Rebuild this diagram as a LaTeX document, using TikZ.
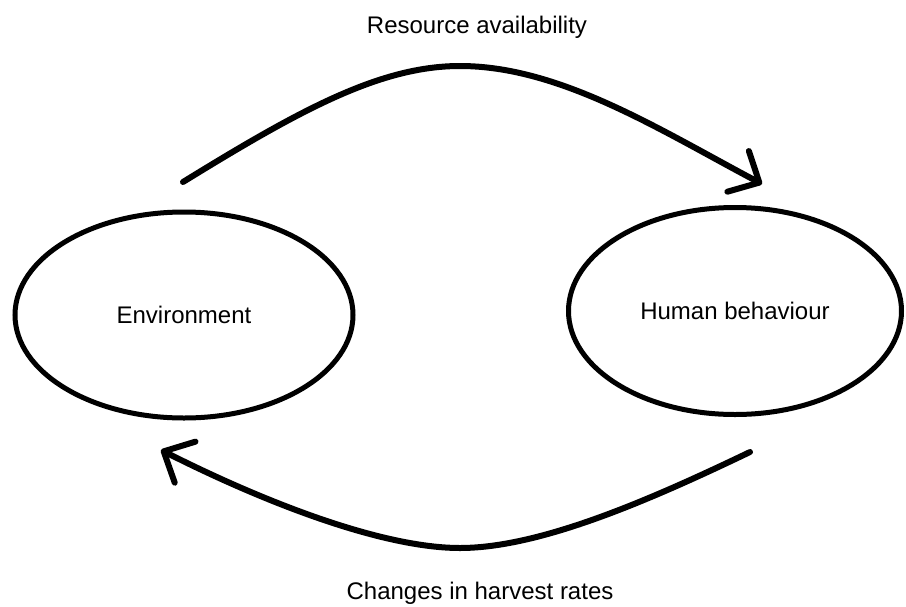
\documentclass[tikz,border=0pt]{standalone}
\usepackage{fontspec}
\setmainfont{Liberation Sans}
\usetikzlibrary{shapes.geometric,arrows.meta}
\begin{document}
\begin{tikzpicture}[x=1pt,y=-1pt,
  font=\fontsize{24}{29}\selectfont,
  sphere/.style={ellipse, draw, line width=5pt, inner sep=0pt},
  flow/.style={line width=6pt, line cap=round, line join=round,
    -{Straight Barb[length=24pt,width=46pt,line cap=round,line join=round]}},
  caption/.style={anchor=base, inner sep=0pt}]
  \useasboundingbox (0,0) rectangle (906,606);

  % the two interacting systems
  \node[sphere, minimum width=338pt, minimum height=206pt] (env) at (184,315) {Environment};
  \node[sphere, minimum width=333pt, minimum height=207pt] (hum) at (735,311) {Human behaviour};

  % free ends of the feedback arcs
  \coordinate (topstart) at (183,182);
  \coordinate (toppeak) at (460,66);
  \coordinate (topend) at (762,184);
  \coordinate (botstart) at (750,452);
  \coordinate (botlow) at (460,548);
  \coordinate (botend) at (161,450);

  % environment -> human behaviour
  \draw[flow] (topstart) .. controls (300,110) and (380,66) .. (toppeak)
                         .. controls (560,66) and (660,130) .. (topend);
  % human behaviour -> environment
  \draw[flow] (botstart) .. controls (650,500) and (540,548) .. (botlow)
                         .. controls (380,548) and (260,500) .. (botend);

  \node[caption] (res) at (477,33) {Resource availability};
  \node[caption] (har) at (480,599) {Changes in harvest rates};
\end{tikzpicture}
\end{document}
